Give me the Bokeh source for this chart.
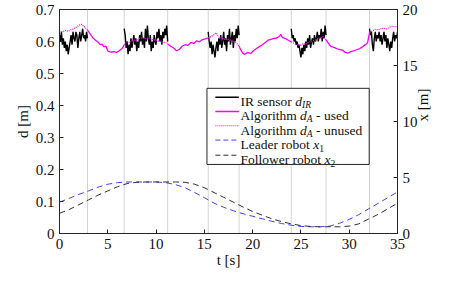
import math
import numpy as np
from bokeh.plotting import figure
from bokeh.models import Range1d, LinearAxis, FixedTicker, Label
from bokeh.embed import file_html
from bokeh.resources import INLINE

# ---------------- data ----------------
switch_t = [2.9, 6.7, 11.2, 15.4, 18.6, 24.0, 27.6, 32.1]

ir_dt = 0.1
ir_start = [0.0, 6.7, 15.4, 24.0, 32.1]
ir_seg1 = [0.62, 0.60, 0.63, 0.59, 0.61, 0.58, 0.60, 0.57, 0.59, 0.56,
           0.58, 0.60, 0.62, 0.59, 0.63, 0.61, 0.60, 0.63, 0.62, 0.58,
           0.61, 0.63, 0.60, 0.62, 0.64, 0.61, 0.62, 0.60, 0.63, 0.61]
ir_seg2 = [0.64, 0.62, 0.58, 0.60, 0.56, 0.59, 0.57, 0.61, 0.58, 0.60,
           0.62, 0.59, 0.61, 0.57, 0.60, 0.58, 0.62, 0.60, 0.63, 0.59,
           0.61, 0.58, 0.64, 0.60, 0.65, 0.61, 0.59, 0.62, 0.57, 0.60,
           0.58, 0.62, 0.60, 0.59, 0.63, 0.61, 0.64, 0.60, 0.62, 0.59,
           0.63, 0.61, 0.64, 0.62, 0.65, 0.60]
ir_seg3 = [0.63, 0.60, 0.58, 0.60, 0.56, 0.59, 0.57, 0.55, 0.58, 0.60,
           0.57, 0.61, 0.59, 0.62, 0.58, 0.60, 0.63, 0.59, 0.61, 0.57,
           0.62, 0.60, 0.64, 0.59, 0.61, 0.63, 0.58, 0.62, 0.60, 0.64,
           0.61, 0.65, 0.62]
ir_seg4 = [0.64, 0.61, 0.62, 0.60, 0.61, 0.59, 0.60, 0.58, 0.59, 0.57,
           0.55, 0.58, 0.56, 0.59, 0.57, 0.60, 0.58, 0.61, 0.59, 0.62,
           0.58, 0.60, 0.61, 0.59, 0.62, 0.60, 0.61, 0.63, 0.60, 0.62,
           0.61, 0.64, 0.60, 0.63, 0.61, 0.65, 0.62]
ir_seg5 = [0.64, 0.62, 0.63, 0.59, 0.57, 0.61, 0.63, 0.60, 0.62, 0.61,
           0.63, 0.60, 0.62, 0.59, 0.61, 0.63, 0.60, 0.62, 0.58, 0.61,
           0.59, 0.57, 0.60, 0.58, 0.61, 0.63, 0.60, 0.62, 0.61, 0.63]

alg_t = [0.0, 0.3, 0.6, 0.9, 1.2, 1.5, 1.8, 2.1, 2.3, 2.6,
         2.9, 3.2, 3.5, 3.7, 4.0, 4.2, 4.4, 4.6, 4.8, 5.0,
         5.3, 5.6, 5.9, 6.2, 6.5, 6.7, 7.0, 7.3, 7.6, 8.0,
         8.3, 8.6, 9.0, 9.3, 9.6, 10.0, 10.3, 10.6, 11.0, 11.2,
         11.5, 11.8, 12.1, 12.4, 12.7, 13.0, 13.3, 13.6, 13.9, 14.2,
         14.5, 14.8, 15.1, 15.4, 15.7, 16.0, 16.2, 16.5, 16.8, 17.1,
         17.4, 17.7, 18.0, 18.3, 18.6, 18.8, 19.0, 19.2, 19.5, 19.8,
         20.1, 20.4, 20.7, 21.0, 21.3, 21.6, 21.9, 22.2, 22.5, 22.8,
         22.9, 23.1, 23.4, 23.7, 24.0, 24.3, 24.6, 24.9, 25.2, 25.5,
         25.8, 26.1, 26.4, 26.7, 27.0, 27.3, 27.6, 27.8, 28.1, 28.4,
         28.7, 29.0, 29.3, 29.6, 29.9, 30.2, 30.5, 30.8, 31.1, 31.4,
         31.7, 31.9, 32.1, 32.4, 32.7, 33.0, 33.3, 33.6, 33.9, 34.2,
         34.5, 34.8, 35.0]
alg_d = [0.633, 0.630, 0.635, 0.632, 0.637, 0.640, 0.646, 0.652, 0.654, 0.645,
         0.636, 0.622, 0.610, 0.605, 0.598, 0.590, 0.592, 0.583, 0.586, 0.570,
         0.567, 0.568, 0.566, 0.571, 0.579, 0.590, 0.600, 0.597, 0.605, 0.603,
         0.610, 0.612, 0.608, 0.611, 0.606, 0.604, 0.601, 0.598, 0.596, 0.592,
         0.585, 0.580, 0.571, 0.575, 0.585, 0.590, 0.588, 0.597, 0.594, 0.602,
         0.599, 0.606, 0.608, 0.611, 0.615, 0.622, 0.627, 0.614, 0.610, 0.607,
         0.608, 0.603, 0.600, 0.596, 0.585, 0.572, 0.563, 0.560, 0.566, 0.562,
         0.572, 0.578, 0.584, 0.590, 0.597, 0.604, 0.607, 0.610, 0.611, 0.617,
         0.622, 0.612, 0.609, 0.604, 0.599, 0.594, 0.590, 0.587, 0.593, 0.592,
         0.597, 0.601, 0.604, 0.608, 0.612, 0.615, 0.605, 0.596, 0.585, 0.582,
         0.578, 0.575, 0.573, 0.566, 0.564, 0.569, 0.571, 0.575, 0.578, 0.584,
         0.591, 0.596, 0.628, 0.633, 0.638, 0.636, 0.640, 0.641, 0.639, 0.645,
         0.648, 0.646, 0.648]

robot_t = list(range(0, 36))
leader_x = [2.80, 3.14, 3.49, 3.80, 4.14, 4.40, 4.54, 4.60, 4.60, 4.60,
            4.60, 4.54, 4.37, 4.09, 3.66, 3.20, 2.71, 2.34, 2.03, 1.77,
            1.54, 1.31, 1.09, 0.89, 0.74, 0.63, 0.60, 0.60, 0.66, 0.91,
            1.26, 1.69, 2.20, 2.69, 3.20, 3.71]
follower_x = [1.80, 2.14, 2.57, 3.00, 3.43, 3.80, 4.17, 4.46, 4.57, 4.60,
              4.60, 4.60, 4.60, 4.57, 4.40, 4.09, 3.66, 3.23, 2.80, 2.37,
              1.97, 1.63, 1.31, 1.06, 0.86, 0.71, 0.63, 0.60, 0.60, 0.60,
              0.66, 0.86, 1.29, 1.71, 2.20, 2.71]

x_ticks = [0, 5, 10, 15, 20, 25, 30, 35]
d_ticks = [0, 0.1, 0.2, 0.3, 0.4, 0.5, 0.6, 0.7]
d_tick_labels = ["0", "0.1", "0.2", "0.3", "0.4", "0.5", "0.6", "0.7"]
x_right_ticks = [0, 5, 10, 15, 20]

# ---------------- styling ----------------
FONT = "Liberation Serif"
AX = "#262626"
TXT = "#111111"
MAG = "#ff00ff"

p = figure(width=441, height=270, output_backend="svg", toolbar_location=None,
           x_range=Range1d(0, 35), y_range=Range1d(0, 0.7),
           min_border_left=59, min_border_right=40, min_border_top=9,
           min_border_bottom=0)
p.extra_y_ranges = {"x": Range1d(0, 20)}
p.xgrid.visible = False
p.ygrid.visible = False
p.outline_line_color = AX
p.outline_line_width = 1
p.background_fill_color = "white"

right = LinearAxis(y_range_name="x")
p.add_layout(right, "right")

for ax in [p.xaxis[0], p.yaxis[0], right]:
    ax.axis_line_color = AX
    ax.major_tick_line_color = AX
    ax.major_tick_in = 4
    ax.major_tick_out = 0
    ax.minor_tick_line_color = None
    ax.major_label_text_font = FONT
    ax.major_label_text_font_size = "15px"
    ax.major_label_text_color = TXT
    ax.major_label_standoff = 5
    ax.axis_label_text_font = FONT
    ax.axis_label_text_font_size = "15px"
    ax.axis_label_text_font_style = "normal"
    ax.axis_label_text_color = TXT
    ax.axis_label_standoff = 2

p.xaxis[0].ticker = FixedTicker(ticks=x_ticks)
p.xaxis[0].major_label_standoff = 5
p.xaxis[0].axis_label_standoff = 0
p.xaxis[0].axis_label = "t [s]"
p.yaxis[0].ticker = FixedTicker(ticks=d_ticks)
p.yaxis[0].major_label_overrides = {t: s for t, s in zip(d_ticks, d_tick_labels)}
p.yaxis[0].axis_label = "d [m]"
right.ticker = FixedTicker(ticks=x_right_ticks)
right.axis_label = "x [m]"
try:
    right.axis_label_orientation = math.pi / 2
except Exception:
    pass

# vertical switch lines
p.segment(x0=switch_t, x1=switch_t, y0=[0] * len(switch_t), y1=[0.7] * len(switch_t),
          line_color="#d4d4d4", line_width=1)

# robots (right axis)
p.line(robot_t, leader_x, y_range_name="x", line_color="#2b2bff", line_width=0.9,
       line_dash="6 4")
p.line(robot_t, follower_x, y_range_name="x", line_color="#1a1a1a", line_width=0.9,
       line_dash="6 4")


def piece(a, b):
    ts = [a] + [t for t in alg_t if a < t < b] + [b]
    return ts, list(np.interp(ts, alg_t, alg_d))


used = [(switch_t[i], switch_t[i + 1]) for i in range(0, len(switch_t), 2)]
bounds = [0.0] + switch_t + [35.0]
unused = [(bounds[i], bounds[i + 1]) for i in range(0, len(bounds), 2)]

# IR sensor
for st, seg in zip(ir_start, [ir_seg1, ir_seg2, ir_seg3, ir_seg4, ir_seg5]):
    ts = [st + ir_dt * i for i in range(len(seg))]
    p.line(ts, seg, line_color="black", line_width=1.4)

for a, b in unused:
    ts, ds = piece(a, b)
    p.line(ts, ds, line_color=MAG, line_width=1.2, line_dash="1 1")
for a, b in used:
    ts, ds = piece(a, b)
    p.line(ts, ds, line_color=MAG, line_width=1.3)

# ---------------- legend (drawn by hand to allow math italics) ----------------
W_REG = {" ": 250, "A": 722, "F": 556, "I": 333, "L": 611, "R": 667, "a": 444,
         "b": 500, "d": 500, "e": 444, "g": 500, "h": 500, "i": 278, "l": 278,
         "m": 778, "n": 500, "o": 500, "r": 333, "s": 389, "t": 278, "u": 500,
         "w": 722, "-": 333, "1": 500, "2": 500}
W_IT = {"d": 500, "x": 444, "A": 611, "I": 333, "R": 611}


def tw(s, size, italic=False):
    tab = W_IT if italic else W_REG
    return sum(tab.get(c, 500) for c in s) * size / 1000.0


leg_left, leg_right, leg_top, leg_bottom = 15.27, 32.07, 0.4537, 0.2158
rows = [0.4259, 0.3813, 0.3367, 0.2920, 0.2446]
p.quad(left=[leg_left], right=[leg_right], top=[leg_top], bottom=[leg_bottom],
       fill_color="white", line_color=AX, line_width=1)

styles = [dict(line_color="black", line_width=1.4),
          dict(line_color=MAG, line_width=1.3),
          dict(line_color=MAG, line_width=1.2, line_dash="1 1"),
          dict(line_color="#2b2bff", line_width=0.9, line_dash="5 3"),
          dict(line_color="#1a1a1a", line_width=0.9, line_dash="5 3")]
FS, SUB = 13.5, 9.5
entries = [
    [("IR sensor ", False, FS, 0), ("d", True, FS, 0), ("IR", True, SUB, -3.5)],
    [("Algorithm ", False, FS, 0), ("d", True, FS, 0), ("A", True, SUB, -3.5), (" - used", False, FS, 0)],
    [("Algorithm ", False, FS, 0), ("d", True, FS, 0), ("A", True, SUB, -3.5), (" - unused", False, FS, 0)],
    [("Leader robot ", False, FS, 0), ("x", True, FS, 0), ("1", False, SUB, -3.5)],
    [("Follower robot ", False, FS, 0), ("x", True, FS, 0), ("2", False, SUB, -3.5)],
]
text_x = 18.74
for y, st, pieces in zip(rows, styles, entries):
    p.line([16.14, 18.57], [y, y], **st)
    off = 0.0
    for txt, it, size, dy in pieces:
        lead = len(txt) - len(txt.lstrip(" "))
        off += tw(" " * lead, size, it)
        core = txt.strip(" ")
        p.add_layout(Label(x=text_x, y=y, x_offset=off, y_offset=-4.5 + dy, text=core,
                           text_font=FONT, text_font_size=f"{size}px",
                           text_font_style="italic" if it else "normal",
                           text_color=TXT, text_baseline="alphabetic",
                           text_align="left"))
        off += tw(txt.lstrip(" "), size, it)

open("out.html", "w").write(file_html(p, INLINE))
